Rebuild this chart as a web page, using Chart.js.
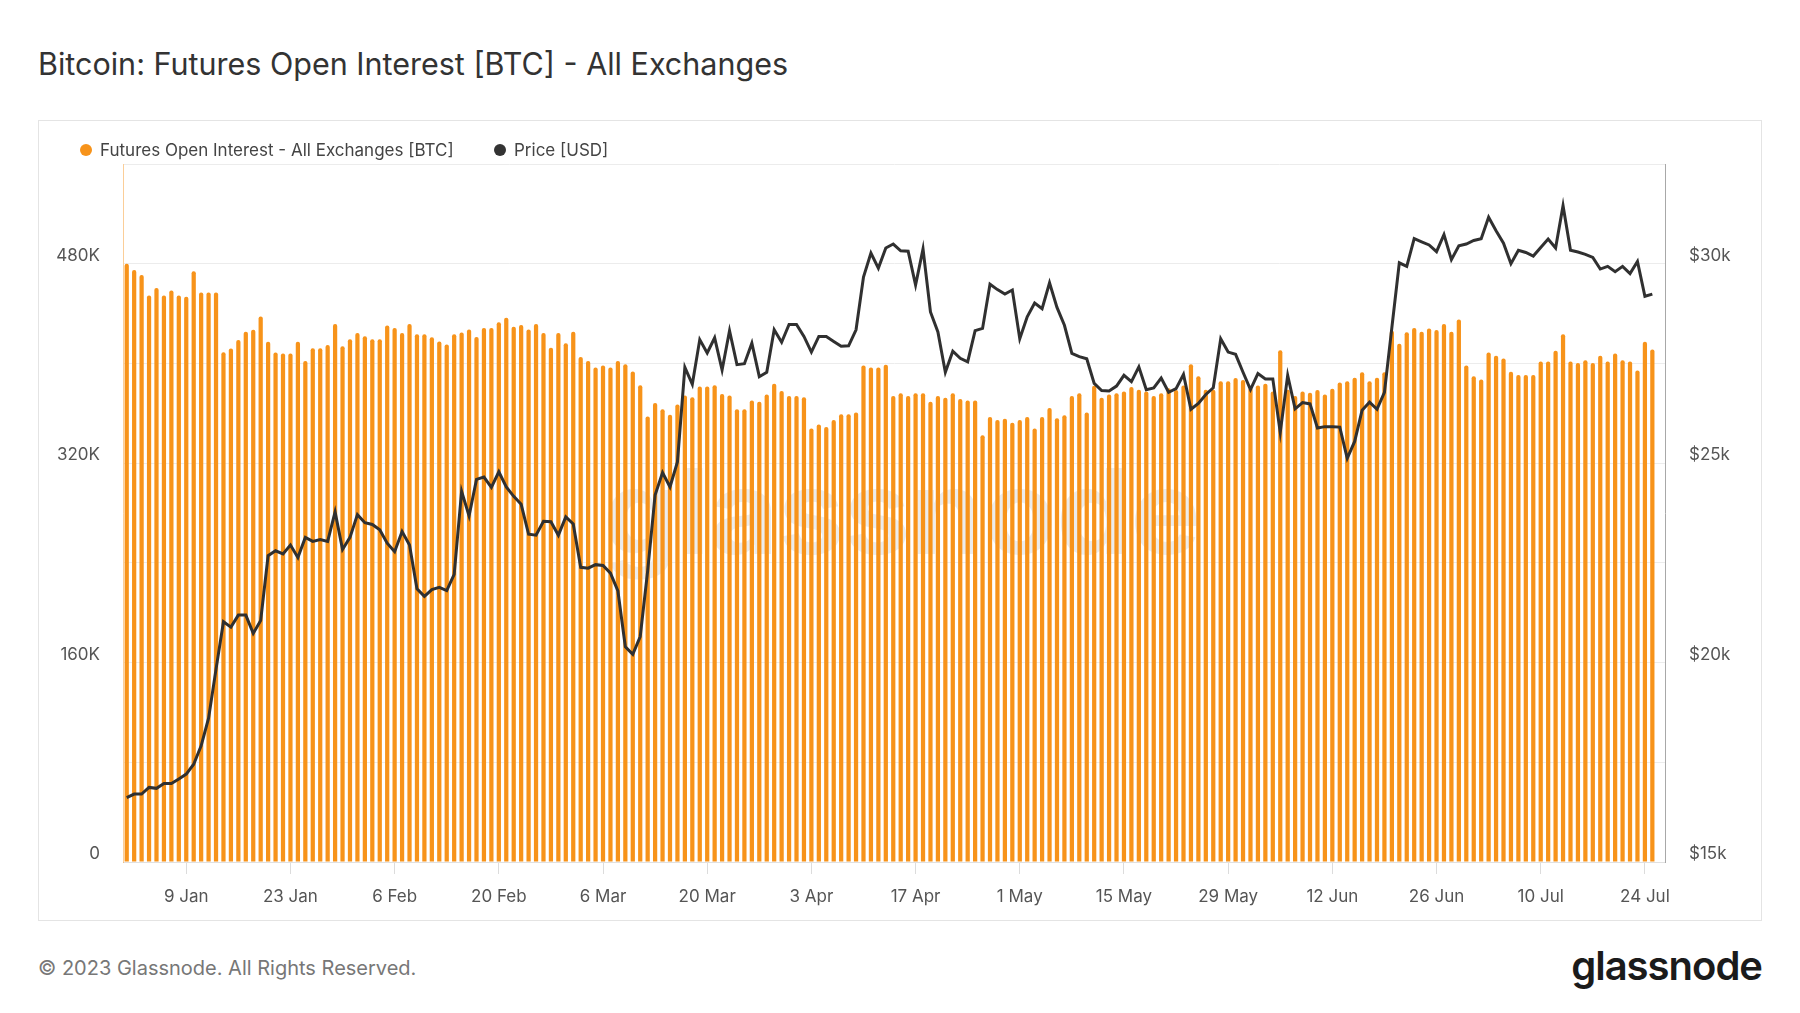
<!DOCTYPE html>
<html>
<head>
<meta charset="utf-8">
<script src="https://cdn.jsdelivr.net/npm/chart.js@4.4.0/dist/chart.umd.min.js"></script>
<style>
  body { margin: 0; width: 1800px; height: 1013px; background: #fff; font-family: Inter, "Noto Sans", sans-serif; overflow: hidden; }
  #titel { position: absolute; left: 38px; top: 45px; font-size: 30.5px; color: #333; font-weight: 400; }
  #cutie { position: absolute; left: 38px; top: 120px; width: 1724px; height: 801px; border: 1px solid #e4e4e4; box-sizing: border-box; }
  #grafic-wrap { position: absolute; left: 0; top: 0; width: 1722px; height: 799px; }
  .leg { position: absolute; top: 18px; font-size: 17px; color: #444; line-height: 22px; white-space: nowrap; }
  .leg i { position: absolute; left: -20px; top: 5px; width: 12px; height: 12px; border-radius: 50%; }
  #subsol { position: absolute; left: 38px; top: 956px; font-size: 20px; color: #777; }
  #logo { position: absolute; right: 38px; top: 941px; font-size: 40px; font-weight: 600; color: #1b1b1b; letter-spacing: -1px; }
</style>
</head>
<body>
<div id="titel">Bitcoin: Futures Open Interest [BTC] - All Exchanges</div>
<div id="cutie">
  <div id="grafic-wrap"><canvas id="grafic"></canvas></div>
  <div class="leg" style="left:61px"><i style="background:#f7931a"></i>Futures Open Interest - All Exchanges [BTC]</div>
  <div class="leg" style="left:475px"><i style="background:#333"></i>Price [USD]</div>
</div>
<div id="subsol">© 2023 Glassnode. All Rights Reserved.</div>
<div id="logo">glassnode</div>
<script>
// zile incepand cu 1 ian 2023 (206 zile, pana la 25 iul)
const dataStart = '2023-01-01';

// open interest, mii BTC
const openInterest = [
	480, 475, 471, 454.5, 460.6, 454.5, 458.5, 454.5, 453.4, 473.9,
	457, 457, 457, 409, 412, 418.7, 425.5, 427, 437.7, 417.3,
	408.7, 408, 408, 417.3, 401.9, 412.2, 412.2, 414.8, 431.6, 413.7,
	419.4, 424.4, 421.9, 419.4, 419.4, 430.5, 428.4, 424.4, 431.6, 423.4,
	423.4, 421, 417.6, 415.1, 423.4, 424.8, 427.3, 421.2, 428.4, 428.4,
	433, 436.6, 429.4, 430.9, 427.3, 431.6, 424.4, 412.6, 424.4, 416.2,
	425.5, 405.1, 401.9, 396.8, 398.3, 396.8, 401.9, 399.4, 393.6, 382.5,
	357.4, 368.2, 363.2, 358.9, 367.1, 374.3, 372.9, 381.4, 381.4, 382.5,
	375.4, 374.3, 363.2, 363.2, 370.3, 369.3, 375, 383.6, 377.9, 373.9,
	373.9, 372.9, 347.8, 351, 348.9, 354.6, 359.2, 359.2, 360.7, 398.3,
	396.8, 396.8, 399, 373.9, 376.1, 373.9, 376.1, 376.1, 369.3, 373.9,
	372.5, 376.1, 371.4, 370.3, 370.3, 342.4, 357.1, 354.6, 355.7, 352.4,
	354.6, 357.1, 347.8, 357.1, 364.3, 356, 358.5, 373.9, 376.1, 360.7,
	382, 372.5, 375, 376.1, 377.5, 381.1, 378.9, 377.5, 373.9, 376.1,
	380, 378.6, 382.2, 399.4, 389.7, 378.9, 378.9, 385.7, 385.7, 388.3,
	386.8, 380.4, 382.2, 383.6, 377.5, 410.5, 378.9, 373.9, 377.5, 376.4,
	378.6, 375, 379.7, 384.7, 385.7, 388.6, 392.9, 385.7, 388.6, 392.9,
	426.2, 415.8, 425.1, 428.4, 425.5, 428, 426.9, 431.6, 425.5, 435.2,
	398.3, 389.7, 387.2, 408.7, 406.2, 404, 393.3, 390.8, 390.8, 390.8,
	401.5, 401.5, 410.1, 423.4, 401.5, 400.4, 402.6, 400.4, 406.2, 401.5,
	407.9, 402.6, 401.5, 394.3, 417.3, 411.2
];

// pret BTC, USD
const pret = [
	16612, 16702, 16702, 16870, 16847, 16970, 16970, 17082, 17205, 17452,
	17911, 18605, 19836, 21023, 20888, 21190, 21190, 20731, 21056, 22680,
	22802, 22724, 22948, 22634, 23138, 23038, 23082, 23038, 23777, 22836,
	23138, 23709, 23508, 23463, 23329, 22993, 22780, 23284, 22948, 21851,
	21660, 21829, 21885, 21806, 22209, 24291, 23676, 24594, 24650, 24392,
	24784, 24403, 24168, 23967, 23217, 23194, 23541, 23530, 23194, 23653,
	23474, 22388, 22366, 22455, 22433, 22243, 21795, 20396, 20205, 20653,
	22299, 24202, 24762, 24403, 25030, 27403, 26978, 28097, 27761, 28142,
	27336, 28321, 27470, 27493, 28008, 27168, 27280, 28344, 28030, 28478,
	28478, 28176, 27784, 28176, 28176, 28052, 27929, 27941, 28344, 29665,
	30269, 29889, 30393, 30493, 30325, 30314, 29463, 30370, 28791, 28288,
	27280, 27806, 27627, 27538, 28321, 28377, 29486, 29351, 29239, 29340,
	28120, 28668, 29015, 28870, 29519, 28904, 28456, 27750, 27672, 27616,
	27000, 26821, 26810, 26933, 27202, 27045, 27414, 26843, 26888, 27134,
	26776, 26866, 27224, 26351, 26497, 26721, 26888, 28120, 27784, 27728,
	27280, 26843, 27246, 27112, 27112, 25769, 27202, 26362, 26519, 26485,
	25881, 25915, 25915, 25903, 25120, 25545, 26329, 26530, 26351, 26776,
	28400, 30023, 29933, 30628, 30550, 30471, 30303, 30728, 30101, 30448,
	30493, 30583, 30628, 31165, 30829, 30516, 30001, 30336, 30281, 30191,
	30404, 30617, 30393, 31456, 30336, 30292, 30236, 30157, 29866, 29933,
	29799, 29933, 29754, 30057, 29184, 29239
];

// etichete axa x (lunea, din 2 in 2 saptamani)
const etichetaZile = ['2023-01-09', '2023-01-23', '2023-02-06', '2023-02-20', '2023-03-06', '2023-03-20', '2023-04-03',
	'2023-04-17', '2023-05-01', '2023-05-15', '2023-05-29', '2023-06-12', '2023-06-26', '2023-07-10', '2023-07-24'];

const luni = ['Jan', 'Feb', 'Mar', 'Apr', 'May', 'Jun', 'Jul', 'Aug', 'Sep', 'Oct', 'Nov', 'Dec'];
const zi0 = Date.parse(dataStart);
const indexZi = s => Math.round((Date.parse(s) - zi0) / 86400000);
const ticksX = etichetaZile.map(indexZi);
function numeZi(i) {
	const d = new Date(zi0 + i * 86400000);
	return d.getUTCDate() + ' ' + luni[d.getUTCMonth()];
}

const watermark = {
	id: 'watermark',
	beforeDatasetsDraw(chart) {
		const { ctx, chartArea } = chart;
		ctx.save();
		ctx.font = 'bold 118px Inter, sans-serif';
		ctx.fillStyle = '#ececec';
		ctx.textAlign = 'center';
		ctx.textBaseline = 'alphabetic';
		ctx.fillText('glassnode', (chartArea.left + chartArea.right) / 2 + 8, (chartArea.top + chartArea.bottom) / 2 + 41);
		ctx.restore();
	}
};

const fontTick = { family: 'Inter, sans-serif', size: 17 };

window.addEventListener('load', function () {
	new Chart(document.getElementById('grafic'), {
		type: 'bar',
		data: {
			datasets: [
				{
					type: 'line',
					label: 'Price [USD]',
					data: pret.map((v, i) => ({ x: i, y: v })),
					yAxisID: 'y1',
					borderColor: '#303030',
					borderWidth: 3,
					pointRadius: 0,
					tension: 0,
					order: 0
				},
				{
					label: 'Futures Open Interest - All Exchanges [BTC]',
					data: openInterest.map((v, i) => ({ x: i, y: v * 1000 })),
					yAxisID: 'y',
					backgroundColor: '#f7931a',
					categoryPercentage: 1,
					barPercentage: 0.57,
					borderRadius: 2,
					order: 1
				}
			]
		},
		options: {
			responsive: true,
			maintainAspectRatio: false,
			animation: false,
			layout: { padding: { top: 43, left: 0, right: 0, bottom: 0 } },
			plugins: { legend: { display: false }, tooltip: { enabled: false } },
			scales: {
				x: {
					type: 'linear',
					offset: false,
					min: -0.5,
					max: 206.7,
					afterBuildTicks: s => { s.ticks = ticksX.map(v => ({ value: v })); },
					afterFit: s => { s.height = 58; },
					grid: { offset: false, drawOnChartArea: false, drawTicks: true, tickLength: 12, color: '#dcdcdc' },
					border: { color: '#e0e0e0' },
					ticks: { font: fontTick, color: '#555', padding: 13, maxRotation: 0, autoSkip: false, callback: v => numeZi(v) }
				},
				y: {
					position: 'left',
					min: 0,
					max: 560000,
					afterFit: s => { s.width = 84; },
					grid: { color: '#ececec', drawTicks: false },
					border: { color: 'rgba(247,147,26,0.45)' },
					ticks: {
						stepSize: 80000, font: fontTick, color: '#555', padding: 23, labelOffset: -8,
						callback: v => v % 160000 === 0 ? (v === 0 ? '0' : (v / 1000) + 'K') : ''
					}
				},
				y1: {
					position: 'right',
					min: 15000,
					max: 32500,
					afterFit: s => { s.width = 96; },
					grid: { drawOnChartArea: false, drawTicks: false },
					border: { color: '#a8a8a8' },
					ticks: {
						stepSize: 2500, font: fontTick, color: '#555', padding: 24, labelOffset: -8,
						callback: v => v % 5000 === 0 ? '$' + (v / 1000) + 'k' : ''
					}
				}
			}
		},
		plugins: [watermark]
	});
});
</script>
</body>
</html>
